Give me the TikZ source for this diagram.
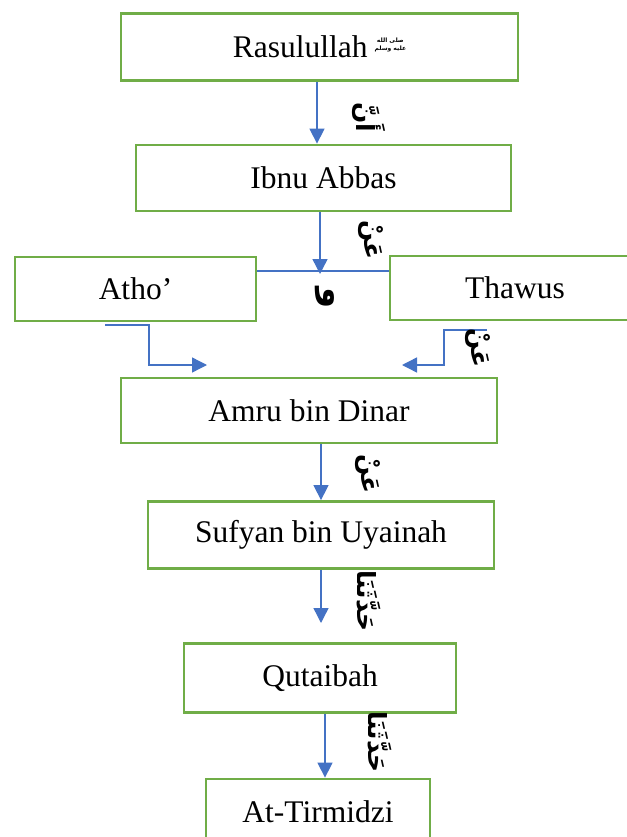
\documentclass[tikz,border=0pt]{standalone}
\usepackage{fontspec}
\setmainfont{Liberation Serif}
\newfontfamily\arabicfont[Script=Arabic]{DejaVu Sans}
\TeXXeTstate=1
\usetikzlibrary{arrows.meta}
\definecolor{boxgreen}{HTML}{70AD47}
\definecolor{linkblue}{HTML}{4472C4}
\tikzset{
  narrator/.style={draw=boxgreen, line width=2.8pt, fill=white, inner sep=0pt,
    font=\fontsize{31.5}{36}\selectfont},
  link/.style={draw=linkblue, line width=1.4pt},
  arr/.style={link, -{Triangle[width=15pt,length=15pt]}},
  via/.style={font=\arabicfont\bfseries\fontsize{25}{28}\selectfont, rotate=-90, inner sep=0pt}
}
% honorific after the Prophet's name, set as a small stacked phrase
\newcommand{\salawat}{{\arabicfont\bfseries\fontsize{6}{6.5}\selectfont
  \raisebox{7pt}{\shortstack{\beginR صلى الله\endR\\\beginR عليه وسلم\endR}}}}
\begin{document}
\begin{tikzpicture}[x=1pt,y=-1pt]
\useasboundingbox (0,0) rectangle (626,837);
% narrators
\node[narrator, minimum width=397pt, minimum height=67pt] (rasul) at (319.5,47) {Rasulullah\hspace{7pt}\salawat};
\node[narrator, minimum width=375pt, minimum height=66pt] (ibnu) at (323.5,178) {Ibnu Abbas};
\node[narrator, minimum width=241pt, minimum height=64pt] (atho) at (135.5,289) {Atho’};
\node[narrator, minimum width=250pt, minimum height=64pt] (thawus) at (515,288) {Thawus};
\node[narrator, minimum width=376pt, minimum height=65pt] (amru) at (309,410.5) {Amru bin Dinar};
\node[narrator, minimum width=346pt, minimum height=67pt] (sufyan) at (321,535) {Sufyan bin Uyainah};
\node[narrator, minimum width=272pt, minimum height=69pt] (qutaibah) at (320,678) {Qutaibah};
\node[narrator, minimum width=224pt, minimum height=66pt] (tirmidzi) at (318,812) {At-Tirmidzi};
% guide coordinates for the connectors
\coordinate (c1) at (317,0);
\coordinate (join) at (320,271);
\coordinate (c3) at (321,0);
\coordinate (c4) at (321,623);
\coordinate (c5) at (325,0);
\coordinate (athoA) at (105,325);
\coordinate (athoB) at (149,325);
\coordinate (athoC) at (149,365);
\coordinate (athoD) at (207,365);
\coordinate (thawA) at (487,330);
\coordinate (thawB) at (444,330);
\coordinate (thawC) at (444,365);
\coordinate (thawD) at (402,365);
% connectors
\draw[arr] (rasul.south -| c1) -- (ibnu.north -| c1);
\draw[link] (atho.east |- join) -- (thawus.west |- join);
\draw[arr] (ibnu.south -| join) -- ([yshift=-3pt]join);
\draw[arr] (athoA) -- (athoB) -- (athoC) -- (athoD);
\draw[arr] (thawA) -- (thawB) -- (thawC) -- (thawD);
\draw[arr] (amru.south -| c3) -- (sufyan.north -| c3);
\draw[arr] (sufyan.south -| c4) -- (c4);
\draw[arr] (qutaibah.south -| c5) -- (tirmidzi.north -| c5);
% transmission words
\node[via] (w1) at (369,117) {\beginR أَنَّ\endR};
\node[via] (w2) at (371,240) {\beginR عَنْ\endR};
\node[via, font=\arabicfont\bfseries\fontsize{34}{36}\selectfont] (w3) at (325,298) {\beginR و\endR};
\node[via] (w4) at (478,348) {\beginR عَنْ\endR};
\node[via] (w5) at (368,474) {\beginR عَنْ\endR};
\node[via] (w6) at (369,601) {\beginR حَدَّثَنَا\endR};
\node[via] (w7) at (380,742) {\beginR حَدَّثَنَا\endR};
\end{tikzpicture}
\end{document}
